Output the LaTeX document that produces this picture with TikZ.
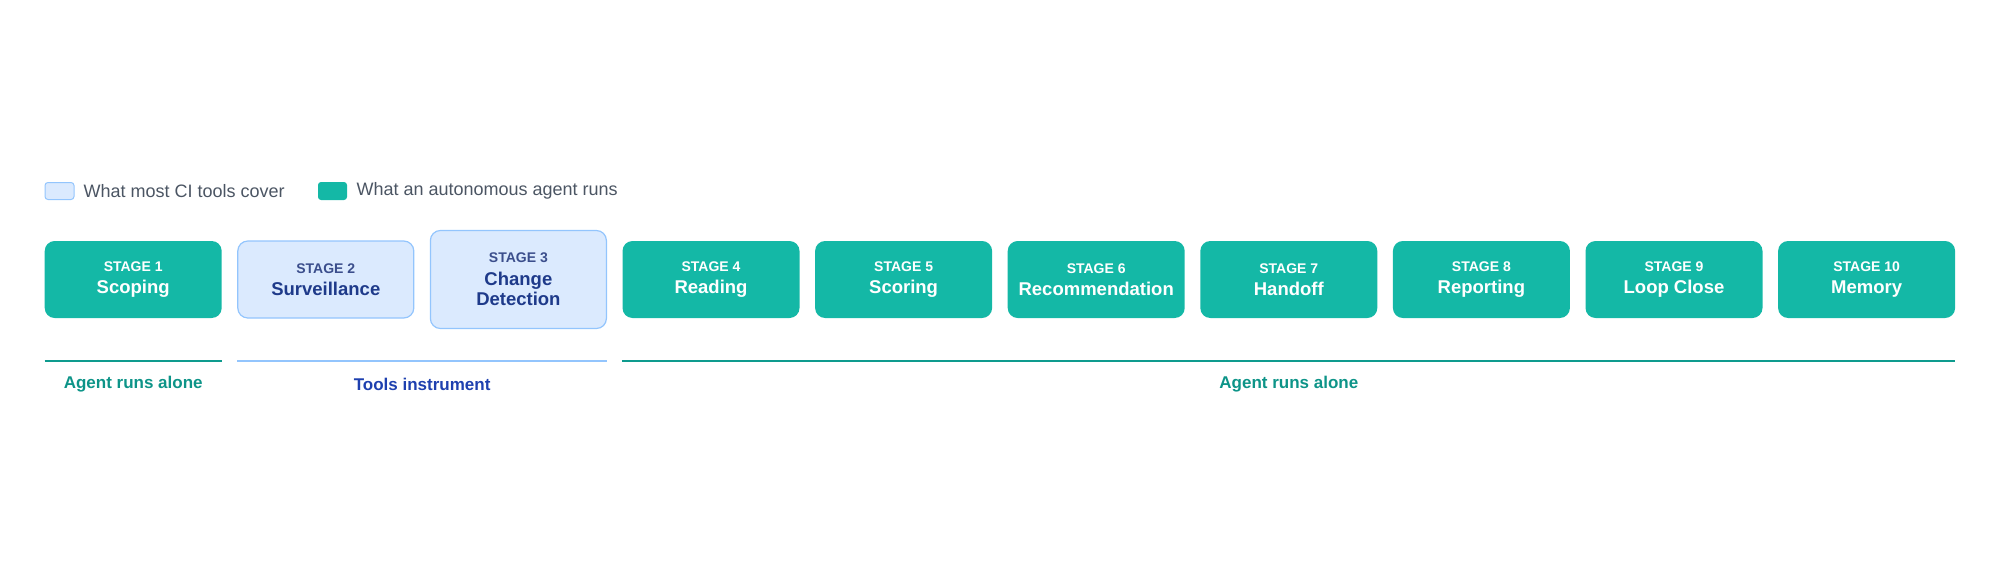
\documentclass[tikz,border=0pt]{standalone}
\usepackage{fontspec}
\setmainfont{Liberation Sans}
\definecolor{teal}{HTML}{14B8A6}
\definecolor{tealdk}{HTML}{0D9488}
\definecolor{lblue}{HTML}{DBEAFE}
\definecolor{bblue}{HTML}{93C5FD}
\definecolor{dblue}{HTML}{1E3A8A}
\definecolor{sblue}{HTML}{3B4E8C}
\definecolor{lblu}{HTML}{1E40AF}
\definecolor{gtxt}{HTML}{4B5563}
\begin{document}
\begin{tikzpicture}[x=1pt,y=1pt,
  agent/.style={fill=teal,rounded corners=10pt,minimum width=177pt,minimum height=77pt,text=white,align=center,inner sep=0},
  tool/.style={fill=lblue,draw=bblue,line width=1.2pt,rounded corners=10pt,minimum width=176pt,text=dblue,align=center,inner sep=0},
  stg/.style={font=\fontsize{14}{16}\selectfont\bfseries},
  ttl/.style={font=\fontsize{18.5}{22}\selectfont\bfseries},
  lgd/.style={anchor=west,text=gtxt,font=\fontsize{18}{20}\selectfont},
  band/.style={line width=2.5pt}]
\useasboundingbox (0,0) rectangle (2000,-575);
% legend
\node[fill=lblue,draw=bblue,line width=1pt,rounded corners=3pt,minimum width=29pt,minimum height=17pt,inner sep=0] (l1) at (59.5,-191) {};
\node[lgd] (l1t) at (80,-191) {What most CI tools cover};
\node[fill=teal,rounded corners=3pt,minimum width=29pt,minimum height=18pt,inner sep=0] (l2) at (332.5,-191) {};
\node[lgd] (l2t) at (353,-191) {What an autonomous agent runs};
% stages
\def\yc{-279.5}
\node[agent] (s1) at (133.2,\yc) {{\fontsize{14}{16}\selectfont\bfseries STAGE 1}\\[8pt]{\fontsize{18.5}{22}\selectfont\bfseries Scoping}};
\node[tool,minimum height=77pt] (s2) at (325.8,\yc) {{\fontsize{14}{16}\selectfont\bfseries\color{sblue}STAGE 2}\\[8pt]{\fontsize{18.5}{22}\selectfont\bfseries Surveillance}};
\node[tool,minimum height=98pt] (s3) at (518.4,\yc) {{\fontsize{14}{16}\selectfont\bfseries\color{sblue}STAGE 3}\\[8pt]{\fontsize{18.5}{22}\selectfont\bfseries Change}\\[2pt]{\fontsize{18.5}{22}\selectfont\bfseries Detection}};
\foreach \i/\t in {4/Reading,5/Scoring,6/Recommendation,7/Handoff,8/Reporting,9/Loop Close,10/Memory}{
  \node[agent] (s\i) at ({133.2+192.6*(\i-1)},\yc) {{\fontsize{14}{16}\selectfont\bfseries STAGE \i}\\[8pt]{\fontsize{18.5}{22}\selectfont\bfseries \t}};
}
% bands
\coordinate (a1) at (s1.west |- 0,-361); \coordinate (a2) at (s1.east |- 0,-361);
\coordinate (b1) at (s2.west |- 0,-361); \coordinate (b2) at (s3.east |- 0,-361);
\coordinate (c1) at (s4.west |- 0,-361); \coordinate (c2) at (s10.east |- 0,-361);
\draw[band,tealdk!80!teal] (a1) -- (a2);
\draw[band,bblue] (b1) -- (b2);
\draw[band,tealdk!80!teal] (c1) -- (c2);
\node[text=tealdk,font=\fontsize{17}{20}\selectfont\bfseries] (t1) at (133.2,-384.5) {Agent runs alone};
\node[text=lblu,font=\fontsize{17}{20}\selectfont\bfseries] (t2) at (422.1,-384.5) {Tools instrument};
\node[text=tealdk,font=\fontsize{17}{20}\selectfont\bfseries] (t3) at (1288.8,-384.5) {Agent runs alone};
\end{tikzpicture}
\end{document}
